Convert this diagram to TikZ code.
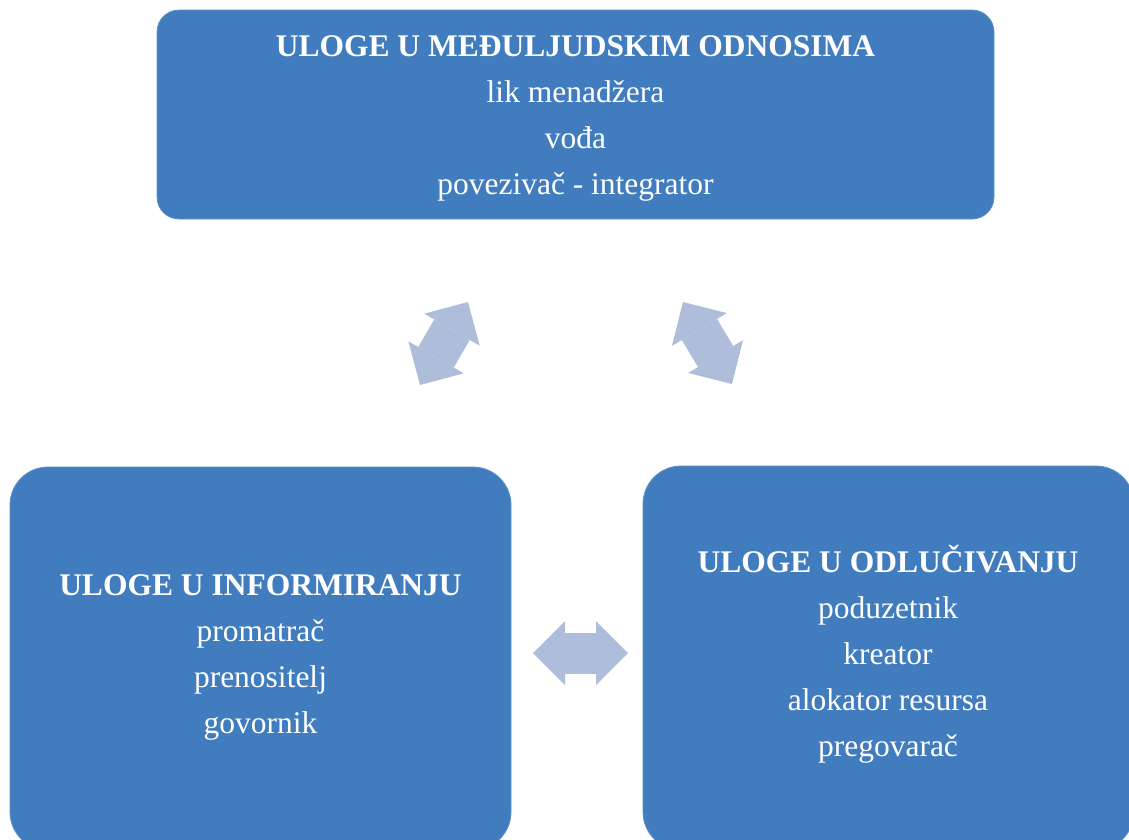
\documentclass[tikz,border=0pt]{standalone}
\usepackage{fontspec}
\setmainfont{Liberation Serif}
\usetikzlibrary{arrows.meta,positioning}
\definecolor{roleblue}{RGB}{65,125,190}
\definecolor{swapblue}{RGB}{174,189,218}

\begin{document}
\begin{tikzpicture}[x=1pt,y=-1pt,
rolebox/.style={fill=roleblue,draw=roleblue!85!white,line width=0.8pt,inner sep=0pt},
roletext/.style={text=white,align=center,inner sep=0pt,anchor=base,font=\fontsize{31.5}{46}\selectfont},
swaparrow/.style={draw=swapblue,line width=41pt,>={Triangle[length=32pt,width=64pt,line width=0pt]},<->}
]
\useasboundingbox (0,0) rectangle (1129,839);

% the three groups of roles
\node[rolebox,rounded corners=22pt,minimum width=837pt,minimum height=209pt] (topbox) at (575.5,114.5) {};
\node[rolebox,rounded corners=38pt,minimum width=501pt,minimum height=383pt] (leftbox) at (260.5,658.5) {};
\node[rolebox,rounded corners=38pt,minimum width=491pt,minimum height=384pt] (rightbox) at (888.5,658) {};

% anchor=base sits on the last line
\node[roletext] (toptext) at (575.5,194)
{\textbf{ULOGE U MEĐULJUDSKIM ODNOSIMA}\\lik menadžera\\vođa\\povezivač - integrator};
\node[roletext] (lefttext) at (260.5,733)
{\textbf{ULOGE U INFORMIRANJU}\\promatrač\\prenositelj\\govornik};
\node[roletext] (righttext) at (888,756)
{\textbf{ULOGE U ODLUČIVANJU}\\poduzetnik\\kreator\\alokator resursa\\pregovarač};

% two-way arrows between them
\coordinate (lu1) at (420,385);
\coordinate (lu2) at (468,302);
\coordinate (ru1) at (683,302);
\coordinate (ru2) at (732,384);
\coordinate (hz1) at (533,653);
\coordinate (hz2) at (628,653);
\draw[swaparrow] (lu1) -- (lu2);
\draw[swaparrow] (ru1) -- (ru2);
\draw[swaparrow] (hz1) -- (hz2);
\end{tikzpicture}
\end{document}
